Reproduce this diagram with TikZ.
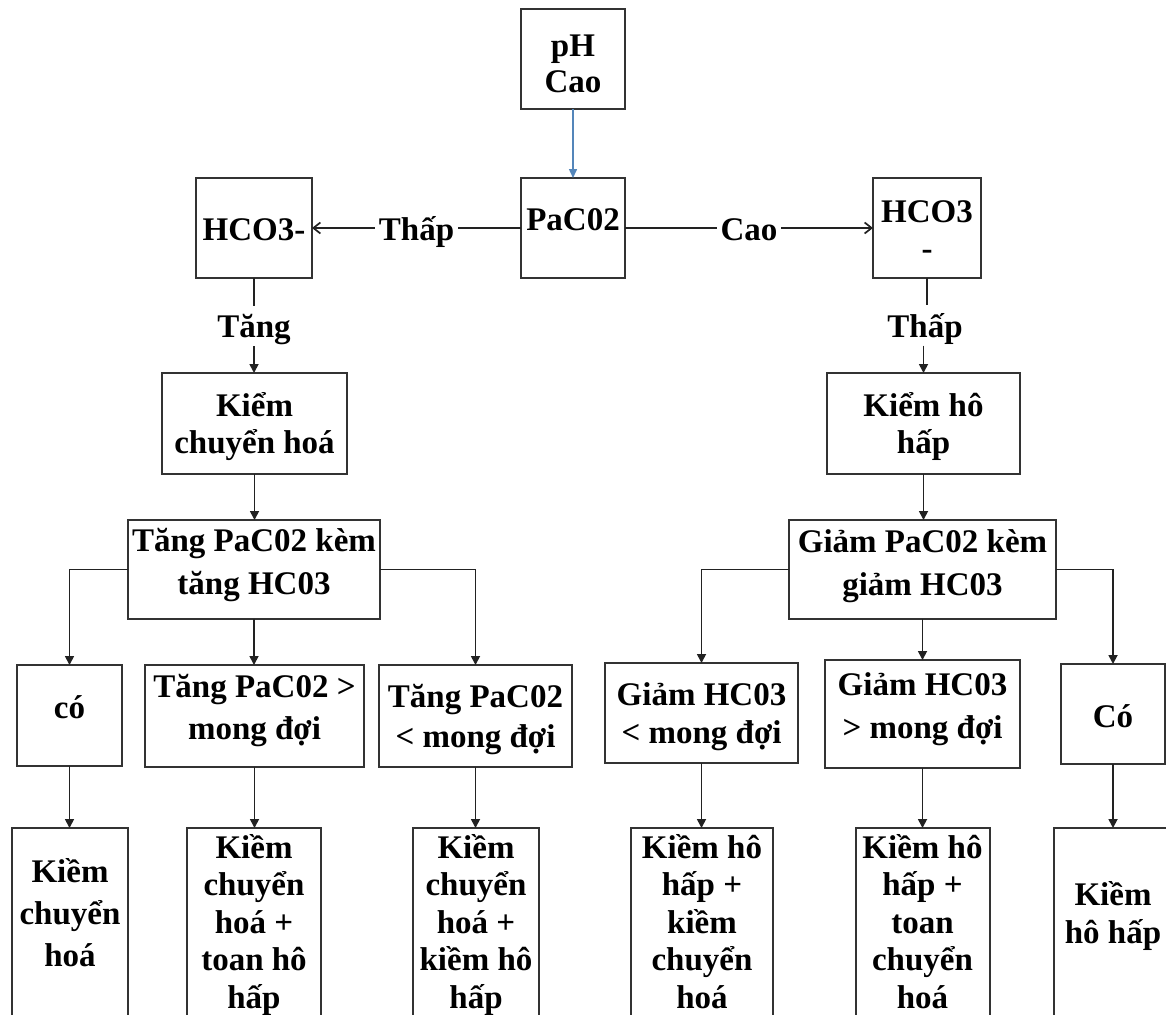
\documentclass[tikz,border=0pt]{standalone}
\usepackage{fontspec}
\setmainfont{Liberation Serif}
\usetikzlibrary{arrows.meta}

\definecolor{edge}{HTML}{333333}
\definecolor{wire}{HTML}{222222}
\definecolor{bluewire}{RGB}{84,134,186}

% centred lines with a fixed baseline distance; the box baseline is the first line
\newcommand\stackl[2]{\vtop{\baselineskip=#1\relax\lineskiplimit=-\maxdimen\lineskip=0pt\halign{\hfil##\hfil\cr#2\crcr}}}
% empty framed box from corner (x1,y1) to corner (x2,y2)
\newcommand\mkbox[5]{\node[box, minimum width={#4-#2}, minimum height={#5-#3}] (#1) at (#2,#3) {};}

\begin{document}
\begin{tikzpicture}[x=1pt,y=-1pt,
  box/.style={draw=edge, line width=2pt, anchor=north west, inner sep=0pt, outer sep=0pt},
  txt/.style={anchor=base, inner sep=0pt, font=\bfseries\fontsize{33}{40}\selectfont},
  lbl/.style={fill=white, inner xsep=4pt, inner ysep=4pt, text height=28pt, text depth=4pt,
              font=\bfseries\fontsize{33}{40}\selectfont},
  wire/.style={draw=wire, line width=1.7pt},
  down/.style={wire, -{Triangle[length=9pt,width=9pt]}},
  side/.style={wire, -{Straight Barb[length=7pt,width=11pt]}},
  bluedown/.style={draw=bluewire, line width=1.5pt, -{Triangle[length=9pt,width=8pt]}},
]
\useasboundingbox (0,0) rectangle (1166,1014);
\fill[white] (0,0) rectangle (1166,1014);
\clip (0,0) rectangle (1166,1014);

% ---- boxes ----
\mkbox{ph}{521}{9}{625}{109}
\mkbox{pac}{521}{178}{625}{278}
\mkbox{hl}{196}{178}{312}{278}
\mkbox{hr}{873}{178}{981}{278}
\mkbox{kch}{162}{373}{347}{474}
\mkbox{khh}{827}{373}{1020}{474}
\mkbox{tp}{128}{520}{380}{619}
\mkbox{gp}{789}{520}{1056}{619}
\mkbox{co1}{17}{665}{122}{766}
\mkbox{tg1}{145}{665}{364}{767}
\mkbox{tl1}{379}{665}{572}{767}
\mkbox{gl}{605}{663}{798}{763}
\mkbox{gg}{825}{660}{1020}{768}
\mkbox{co2}{1061}{664}{1165}{764}
\mkbox{b1}{12}{828}{128}{1040}
\mkbox{b2}{187}{828}{321}{1040}
\mkbox{b3}{413}{828}{539}{1040}
\mkbox{b4}{631}{828}{773}{1040}
\mkbox{b5}{856}{828}{990}{1040}
\mkbox{b6}{1054}{828}{1200}{1040}

% ---- box texts ----
\node[txt] (t-ph)  at (573,57)    {\stackl{36pt}{pH\cr Cao}};
\node[txt] (t-pac) at (573,230)   {PaC02};
\node[txt] (t-hl)  at (254,240)   {HCO3-};
\node[txt] (t-hr)  at (927,222)   {\stackl{37pt}{HCO3\cr -}};
\node[txt] (t-kch) at (254.5,416) {\stackl{37pt}{Kiểm\cr chuyển hoá}};
\node[txt] (t-khh) at (923.5,416) {\stackl{37pt}{Kiểm hô\cr hấp}};
\node[txt] (t-tp)  at (254,551)   {\stackl{43pt}{Tăng PaC02 kèm\cr tăng HC03}};
\node[txt] (t-gp)  at (922.5,552) {\stackl{43pt}{Giảm PaC02 kèm\cr giảm HC03}};
\node[txt] (t-co1) at (69.5,718)  {có};
\node[txt] (t-tg1) at (254.5,697) {\stackl{42pt}{Tăng PaC02 >\cr mong đợi}};
\node[txt] (t-tl1) at (475.5,707) {\stackl{40pt}{Tăng PaC02\cr < mong đợi}};
\node[txt] (t-gl)  at (701.5,705) {\stackl{38pt}{Giảm HC03\cr < mong đợi}};
\node[txt] (t-gg)  at (922.5,695) {\stackl{43pt}{Giảm HC03\cr > mong đợi}};
\node[txt] (t-co2) at (1113,727)  {Có};
\node[txt] (t-b1)  at (70,882)    {\stackl{42pt}{Kiềm\cr chuyển\cr hoá}};
\node[txt] (t-b2)  at (254,858)   {\stackl{37.5pt}{Kiềm\cr chuyển\cr hoá +\cr toan hô\cr hấp}};
\node[txt] (t-b3)  at (476,858)   {\stackl{37.5pt}{Kiềm\cr chuyển\cr hoá +\cr kiềm hô\cr hấp}};
\node[txt] (t-b4)  at (702,858)   {\stackl{37.5pt}{Kiềm hô\cr hấp +\cr kiềm\cr chuyển\cr hoá}};
\node[txt] (t-b5)  at (922.5,858) {\stackl{37.5pt}{Kiềm hô\cr hấp +\cr toan\cr chuyển\cr hoá}};
\node[txt] (t-b6)  at (1113,905)  {\stackl{38pt}{Kiềm\cr hô hấp}};

% ---- connectors ----
\draw[bluedown] (ph.south) -- (pac.north);
\draw[side] (pac.west) -- node[lbl] (l-thap1) {Thấp} (hl.east);
\draw[side] (pac.east) -- node[lbl] (l-cao) {Cao} (hr.west);

\draw[down] (hl.south) -- node[lbl] (l-tang) {Tăng} (hl.south |- kch.north);
\node[lbl] (l-thap2) at (925,325.5) {Thấp};
\draw[wire] (hr.south) -- (hr.south |- l-thap2.north);
\draw[down] (l-thap2.south -| khh.north) -- (khh.north);

\draw[down] (kch.south) -- (kch.south |- tp.north);
\draw[down] (tp.west) -| (co1.north);
\draw[down] (tp.south) -- (tp.south |- tg1.north);
\draw[down] (tp.east) -| (tl1.north);
\draw[down] (co1.south) -- (co1.south |- b1.north);
\draw[down] (tg1.south) -- (tg1.south |- b2.north);
\draw[down] (tl1.south) -- (tl1.south |- b3.north);

\draw[down] (khh.south) -- (khh.south |- gp.north);
\draw[down] (gp.west) -| (gl.north);
\draw[down] (gp.south) -- (gp.south |- gg.north);
\draw[down] (gp.east) -| (co2.north);
\draw[down] (gl.south) -- (gl.south |- b4.north);
\draw[down] (gg.south) -- (gg.south |- b5.north);
\draw[down] (co2.south) -- (co2.south |- b6.north);
\end{tikzpicture}
\end{document}
